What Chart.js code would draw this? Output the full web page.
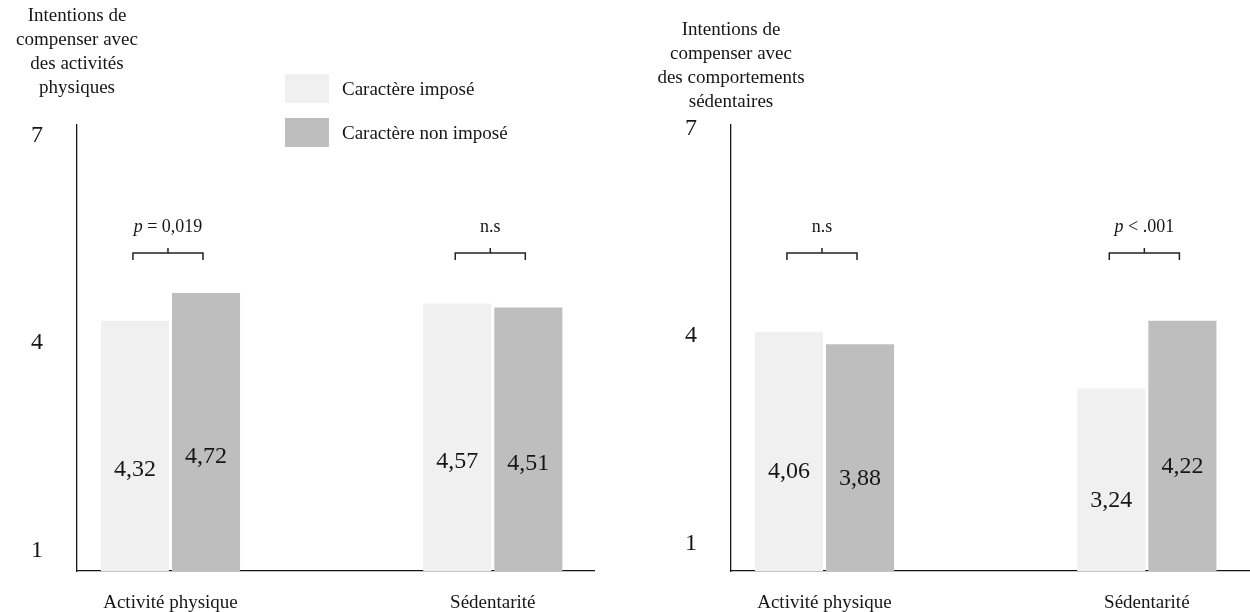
<!DOCTYPE html>
<html lang="fr">
<head>
<meta charset="utf-8">
<title>Intentions de compenser</title>
<script src="https://cdn.jsdelivr.net/npm/chart.js@4.4.1/dist/chart.umd.min.js"></script>
<style>
  html, body { margin: 0; padding: 0; background: #fff; }
  .wrap { position: relative; width: 1250px; height: 612px; overflow: hidden; }
  canvas { position: absolute; top: 0; }
  #physChart { left: 0; }
  #sedChart { left: 654px; }
</style>
</head>
<body>
<div class="wrap">
  <canvas id="physChart" width="654" height="612"></canvas>
  <canvas id="sedChart" width="596" height="612"></canvas>
</div>
<script>
const categories = ["Activité physique", "Sédentarité"];
const seriesNames = ["Caractère imposé", "Caractère non imposé"];
const seriesColors = ['#f0f0f0', '#bebebe'];
const yTicks = [1, 4, 7];

// panel 1 : compenser avec des activités physiques
const physTitle = ["Intentions de", "compenser avec", "des activités", "physiques"];
const physImposed = [4.32, 4.57];
const physNotImposed = [4.72, 4.51];
const physSig = ["p = 0,019", "n.s"];

// panel 2 : compenser avec des comportements sédentaires
const sedTitle = ["Intentions de", "compenser avec", "des comportements", "sédentaires"];
const sedImposed = [4.06, 3.24];
const sedNotImposed = [3.88, 4.22];
const sedSig = ["n.s", "p < .001"];

const SERIF = '"Liberation Serif", "Times New Roman", serif';
const INK = '#161616';

Chart.defaults.font.family = SERIF;
Chart.defaults.color = INK;

// "p" in italics, the rest upright
function drawSig(ctx, txt, cx, cy) {
    ctx.textBaseline = 'middle';
    ctx.textAlign = 'left';
    if (txt.startsWith('p ')) {
        const rest = txt.slice(1);
        ctx.font = 'italic 18px ' + SERIF;
        const wp = ctx.measureText('p').width;
        ctx.font = '18px ' + SERIF;
        const wr = ctx.measureText(rest).width;
        let x = cx - (wp + wr) / 2;
        ctx.font = 'italic 18px ' + SERIF;
        ctx.fillText('p', x, cy);
        ctx.font = '18px ' + SERIF;
        ctx.fillText(rest, x + wp, cy);
    } else {
        ctx.font = '18px ' + SERIF;
        ctx.textAlign = 'center';
        ctx.fillText(txt, cx, cy);
    }
}

const panelDecor = {
    id: 'panelDecor',
    afterDraw(chart, args, opts) {
        const ctx = chart.ctx;
        const yScale = chart.scales.y;
        const area = chart.chartArea;
        const m0 = chart.getDatasetMeta(0);
        const m1 = chart.getDatasetMeta(1);
        ctx.save();
        ctx.fillStyle = INK;

        // values inside the bars
        ctx.font = '24px ' + SERIF;
        ctx.textAlign = 'center';
        ctx.textBaseline = 'middle';
        chart.data.datasets.forEach((ds, d) => {
            chart.getDatasetMeta(d).data.forEach((bar, i) => {
                const v = ds.data[i].y;
                ctx.fillText(v.toFixed(2).replace('.', ','), bar.x, (bar.y + bar.base) / 2);
            });
        });

        // significance brackets
        const by = yScale.getPixelForValue(opts.bracketLevel);
        ctx.strokeStyle = '#222';
        ctx.lineWidth = 1.5;
        opts.sig.forEach((txt, i) => {
            const x1 = m0.data[i].x - 2;
            const x2 = m1.data[i].x - 3;
            const mid = (x1 + x2) / 2;
            ctx.beginPath();
            ctx.moveTo(x1, by + 7);
            ctx.lineTo(x1, by);
            ctx.lineTo(x2, by);
            ctx.lineTo(x2, by + 7);
            ctx.moveTo(mid, by);
            ctx.lineTo(mid, by - 5);
            ctx.stroke();
            drawSig(ctx, txt, mid, by - 26);
        });

        // axis title, centred on the y axis
        ctx.font = '19px ' + SERIF;
        ctx.textAlign = 'center';
        ctx.textBaseline = 'middle';
        opts.title.forEach((line, i) => {
            ctx.fillText(line, area.left, opts.titleTop + i * 24);
        });

        // legend (left panel only)
        if (opts.legend) {
            seriesNames.forEach((name, i) => {
                const top = 74 + i * 44;
                ctx.fillStyle = seriesColors[i];
                ctx.fillRect(285, top, 44, 29);
                ctx.fillStyle = INK;
                ctx.textAlign = 'left';
                ctx.fillText(name, 342, top + 16);
            });
        }
        ctx.restore();
    }
};

function makePanel(id, title, imposed, notImposed, sig, o) {
    return new Chart(document.getElementById(id), {
        type: 'bar',
        data: {
            datasets: [
                {
                    label: seriesNames[0],
                    data: imposed.map((v, i) => ({ x: i + 1, y: v })),
                    backgroundColor: seriesColors[0]
                },
                {
                    label: seriesNames[1],
                    data: notImposed.map((v, i) => ({ x: i + 1, y: v })),
                    backgroundColor: seriesColors[1]
                }
            ]
        },
        options: {
            responsive: false,
            animation: false,
            events: [],
            categoryPercentage: 0.441,
            barPercentage: 0.958,
            layout: { padding: { top: 125, right: o.rightPad, left: 31, bottom: 0 } },
            plugins: {
                legend: { display: false },
                tooltip: { enabled: false },
                panelDecor: {
                    title: title,
                    titleTop: o.titleTop,
                    sig: sig,
                    bracketLevel: o.bracketLevel,
                    legend: o.legend
                }
            },
            scales: {
                x: {
                    type: 'linear',
                    offset: false,
                    min: 0.71,
                    max: o.xMax,
                    z: 1,
                    grid: { display: false, offset: false },
                    border: { color: INK, width: 1.3 },
                    afterBuildTicks: s => { s.ticks = categories.map((c, i) => ({ value: i + 1 })); },
                    afterFit: s => { s.height = 41; },
                    ticks: {
                        padding: 13,
                        autoSkip: false,
                        maxRotation: 0,
                        font: { size: 19 },
                        color: INK,
                        callback: v => categories[v - 1]
                    }
                },
                y: {
                    min: o.yMin,
                    max: o.yMax,
                    grid: { display: false },
                    border: { color: INK, width: 1.3 },
                    afterBuildTicks: s => { s.ticks = yTicks.map(v => ({ value: v })); },
                    afterFit: s => { s.width = 46; },
                    ticks: { padding: 0, crossAlign: 'far', font: { size: 24 }, color: INK }
                }
            }
        },
        plugins: [panelDecor]
    });
}

document.addEventListener('DOMContentLoaded', function () {
    makePanel('physChart', physTitle, physImposed, physNotImposed, physSig,
        { rightPad: 60, xMax: 2.314, yMin: 0.70, yMax: 7.15, bracketLevel: 5.3, titleTop: 16, legend: true });
    makePanel('sedChart', sedTitle, sedImposed, sedNotImposed, sedSig,
        { rightPad: 0, xMax: 2.32, yMin: 0.60, yMax: 7.05, bracketLevel: 5.2, titleTop: 30, legend: false });
});
</script>
</body>
</html>
